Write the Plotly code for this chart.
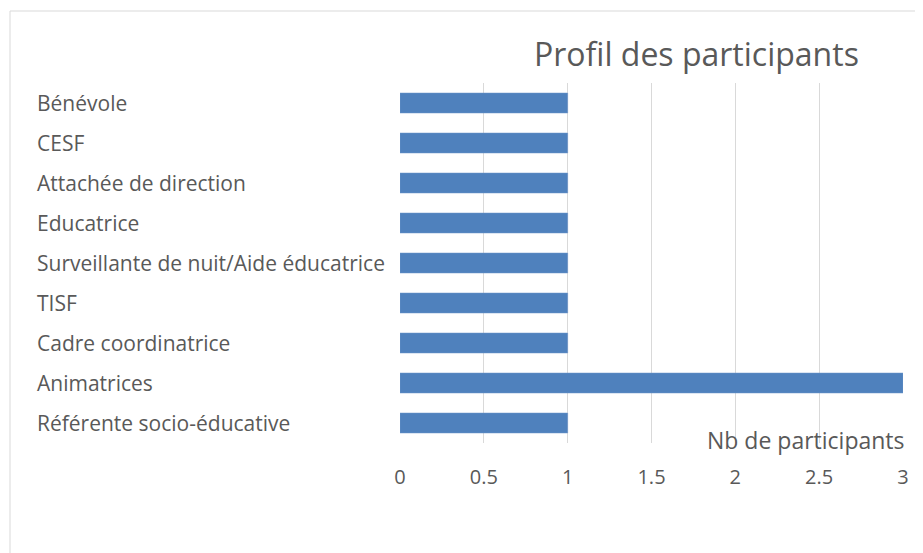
import plotly.graph_objects as go

categories = ["Bénévole", "CESF", "Attachée de direction", "Educatrice",
              "Surveillante de nuit/Aide éducatrice", "TISF", "Cadre coordinatrice",
              "Animatrices", "Référente socio-éducative"]
values = [1, 1, 1, 1, 1, 1, 1, 3, 1]
tick_vals = [0, 0.5, 1, 1.5, 2, 2.5, 3]
tick_text = ["0", "0.5", "1", "1.5", "2", "2.5", "3"]

# page is offset by the 8px body margin
OFF = 8
W, H = 923 - OFF, 553 - OFF
ml = 400 - OFF
mt = 83 - OFF
pr = 903 - OFF
pb = 443 - OFF
mr = W - pr
mb = H - pb
pw = W - ml - mr
ph = H - mt - mb
FONT = "Open Sans"
GRAY = "#595959"


def px(x):
    return (x - OFF - ml) / pw


def py(y):
    return (H - (y - OFF) - mb) / ph


fig = go.Figure(go.Bar(
    x=values, y=categories, orientation="h",
    marker=dict(color="#4F81BD", line=dict(color="#6f95c8", width=0.5)),
    width=0.5,
))

annotations = []
for c in categories:
    annotations.append(dict(
        x=px(35), xref="paper", y=c, yref="y",
        text=c, showarrow=False, xanchor="left", yanchor="middle",
        font=dict(family=FONT, size=21, color=GRAY),
    ))
annotations.append(dict(
    x=px(696), xref="paper", y=py(53), yref="paper",
    text="Profil des participants", showarrow=False, xanchor="center", yanchor="middle",
    font=dict(family=FONT, size=32, color=GRAY),
))
annotations.append(dict(
    x=px(907), xref="paper", y=py(440), yref="paper",
    text="Nb de participants", showarrow=False, xanchor="right", yanchor="middle",
    font=dict(family=FONT, size=23, color=GRAY),
))

fig.update_layout(
    width=W, height=H,
    margin=dict(l=ml, r=mr, t=mt, b=mb),
    paper_bgcolor="white", plot_bgcolor="white",
    showlegend=False,
    annotations=annotations,
    shapes=[dict(type="rect", xref="paper", yref="paper",
                 x0=px(10), x1=px(960), y0=py(600), y1=py(11),
                 line=dict(color="#d9d9d9", width=1), fillcolor="rgba(0,0,0,0)", layer="below")],
    xaxis=dict(range=[0, 3], tickvals=tick_vals, ticktext=tick_text,
               showgrid=True, gridcolor="#d9d9d9", gridwidth=1,
               zeroline=False, showline=False, ticks="",
               tickfont=dict(family=FONT, size=20, color=GRAY), ticklabelstandoff=20),
    yaxis=dict(categoryorder="array", categoryarray=categories[::-1],
               showticklabels=False, showgrid=False, zeroline=False, showline=False, ticks=""),
)

fig.write_html("out.html")
